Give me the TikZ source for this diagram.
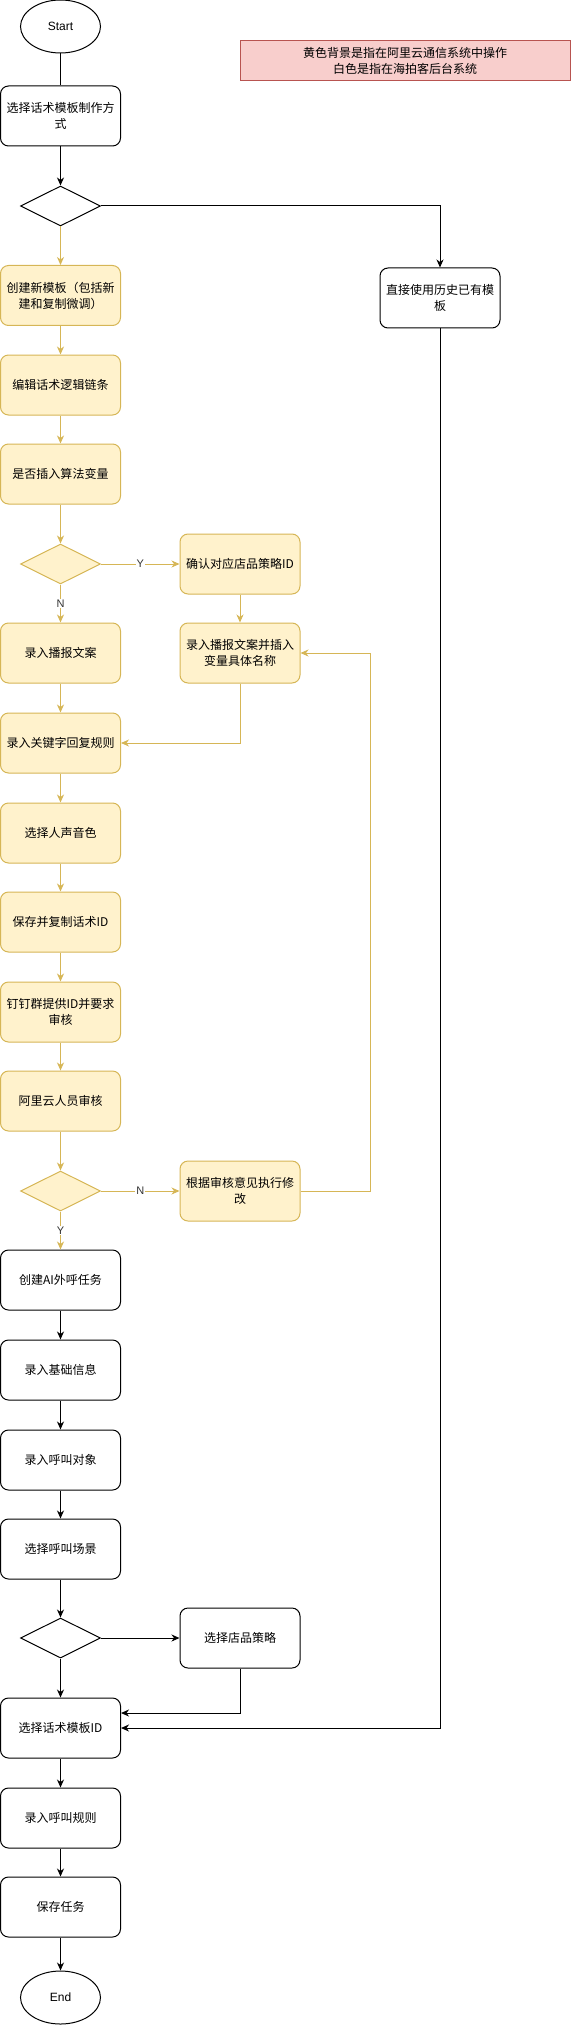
\documentclass[tikz,border=0pt]{standalone}
\usepackage{fontspec}
\setmainfont{Liberation Sans}
\newfontfamily\cjk{Noto Sans CJK SC}
\usetikzlibrary{shapes.geometric, arrows.meta}
\definecolor{yfill}{HTML}{FFF2CC}
\definecolor{yline}{HTML}{D6B656}
\definecolor{rfill}{HTML}{F8CECC}
\definecolor{rline}{HTML}{B85450}
\definecolor{lbl}{HTML}{333333}
\tikzset{
  box/.style={draw, line width=1pt, rounded corners=8pt, minimum width=120pt, minimum height=60pt,
    align=center, inner sep=2pt, font=\cjk\fontsize{12}{16}\selectfont},
  ybox/.style={box, draw=yline, fill=yfill},
  dec/.style={diamond, draw, line width=1pt, minimum width=80pt, minimum height=40pt, inner sep=0pt},
  ydec/.style={dec, draw=yline, fill=yfill},
  term/.style={ellipse, draw, line width=1pt, minimum width=80pt, minimum height=53pt, font=\fontsize{12}{14}\selectfont},
  bl/.style={draw, line width=1pt, -{Stealth[length=8pt, width=7pt, inset=2.5pt]}},
  yl/.style={bl, draw=yline},
  lab/.style={fill=white, inner sep=1pt, text=lbl, font=\fontsize{11}{13}\selectfont}
}
% left column step: style, name, y, text
\newcommand{\stage}[4][ybox]{
  \node[#1] (#2) at (60.5, #3) {#4};
}

\begin{document}
\begin{tikzpicture}[x=1pt, y=-1pt]
  \useasboundingbox (0,0) rectangle (571,2025);

  \node[term] (start) at (60.5, 26.5) {Start};
  \node[box, draw=rline, fill=rfill, minimum width=330pt, minimum height=40pt, rounded corners=0pt]
    (legend) at (405, 60.5) {黄色背景是指在阿里云通信系统中操作\\白色是指在海拍客后台系统};

  \stage[box]{pick}{116}{选择话术模板制作方\\式}
  \node[dec] (d1) at (60.5, 206) {};
  \stage{create}{295.5}{创建新模板（包括新\\建和复制微调）}
  \node[box] (history) at (440, 298) {直接使用历史已有模\\板};
  \stage{edit}{385}{编辑话术逻辑链条}
  \stage{ifvar}{474}{是否插入算法变量}
  \node[ydec] (d2) at (60.5, 564) {};
  \node[ybox] (confirm) at (240, 564) {确认对应店品策略ID};
  \stage{script}{653}{录入播报文案}
  \node[ybox] (scriptvar) at (240, 653) {录入播报文案并插入\\变量具体名称};
  \stage{keyword}{743}{录入关键字回复规则}
  \stage{voice}{833}{选择人声音色}
  \stage{saveid}{922}{保存并复制话术ID}
  \stage{ding}{1012}{钉钉群提供ID并要求\\审核}
  \stage{review}{1101}{阿里云人员审核}
  \node[ydec] (d3) at (60.5, 1191) {};
  \node[ybox] (modify) at (240, 1191) {根据审核意见执行修\\改};
  \coordinate (bend) at (370, 653);

  \stage[box]{newtask}{1280}{创建AI外呼任务}
  \stage[box]{basic}{1370}{录入基础信息}
  \stage[box]{target}{1460}{录入呼叫对象}
  \stage[box]{scene}{1549}{选择呼叫场景}
  \node[dec] (d4) at (60.5, 1638) {};
  \node[box] (strategy) at (240, 1638) {选择店品策略};
  \stage[box]{tplid}{1728}{选择话术模板ID}
  \stage[box]{rule}{1818}{录入呼叫规则}
  \stage[box]{savetask}{1907}{保存任务}
  \node[term] (stop) at (60.5, 1997.5) {End};

  % template choice
  \draw[line width=1pt] (start) -- (pick);
  \draw[bl] (pick) -- (d1);
  \draw[bl] (d1.east) -| (history.north);
  \draw[yl] (d1) -- (create);
  \draw[yl] (create) -- (edit);
  \draw[yl] (edit) -- (ifvar);
  \draw[yl] (ifvar) -- (d2);
  \draw[yl] (d2) -- node[lab]{Y} (confirm);
  \draw[yl] (d2) -- node[lab]{N} (script);
  \draw[yl] (confirm) -- (scriptvar);
  \draw[yl] (scriptvar.south) |- (keyword.east);
  \draw[yl] (script) -- (keyword);
  \draw[yl] (keyword) -- (voice);
  \draw[yl] (voice) -- (saveid);
  \draw[yl] (saveid) -- (ding);
  \draw[yl] (ding) -- (review);
  \draw[yl] (review) -- (d3);
  \draw[yl] (d3) -- node[lab]{N} (modify);
  \draw[yl] (modify.east) -| (bend) -- (scriptvar.east);
  \draw[yl] (d3) -- node[lab]{Y} (newtask);

  % outbound task
  \draw[bl] (newtask) -- (basic);
  \draw[bl] (basic) -- (target);
  \draw[bl] (target) -- (scene);
  \draw[bl] (scene) -- (d4);
  \draw[bl] (d4) -- (strategy);
  \draw[bl] (d4) -- (tplid);
  \draw[bl] (strategy.south) |- ([yshift=15pt]tplid.east);
  \draw[bl] (history.south) |- (tplid.east);
  \draw[bl] (tplid) -- (rule);
  \draw[bl] (rule) -- (savetask);
  \draw[bl] (savetask) -- (stop);
\end{tikzpicture}
\end{document}
